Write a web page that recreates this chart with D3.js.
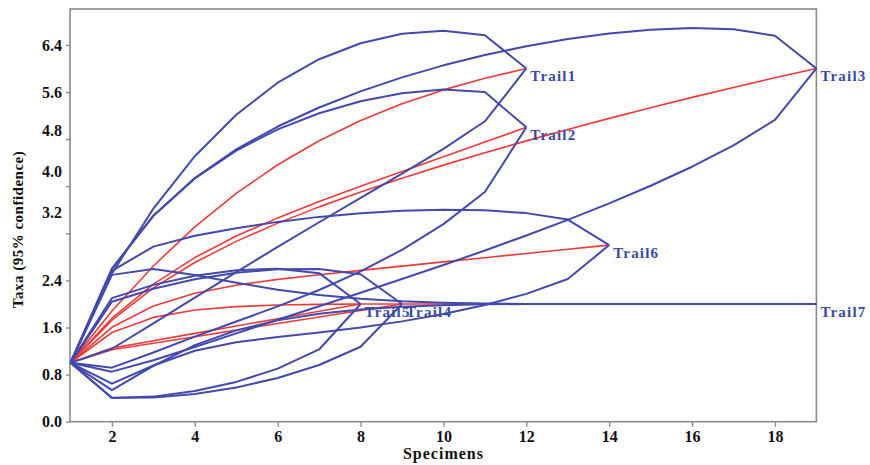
<!DOCTYPE html>
<html><head><meta charset="utf-8">
<script src="https://cdn.jsdelivr.net/npm/d3@7"></script>
<style>
html,body{margin:0;padding:0;background:#fff;}
svg{display:block;}
</style></head><body>
<svg id="chart" width="870" height="465"></svg>
<script>
// ---- data ----
const trailNames = ["Trail1","Trail2","Trail3","Trail4","Trail5","Trail6","Trail7"];

const trail1Mean  = [1, 1.879, 2.645, 3.309, 3.879, 4.364, 4.773, 5.115, 5.4, 5.636, 5.833, 6];
const trail1Lower = [1, 1.239, 1.671, 2.109, 2.542, 2.969, 3.388, 3.801, 4.212, 4.634, 5.103, 6];
const trail1Upper = [1, 2.518, 3.620, 4.510, 5.215, 5.758, 6.157, 6.429, 6.588, 6.639, 6.564, 6];

const trail2Mean  = [1, 1.758, 2.336, 2.788, 3.153, 3.462, 3.739, 3.998, 4.25, 4.5, 4.75, 5];
const trail2Lower = [1, 0.918, 1.176, 1.444, 1.701, 1.959, 2.237, 2.553, 2.920, 3.356, 3.901, 5];
const trail2Upper = [1, 2.598, 3.497, 4.132, 4.605, 4.966, 5.240, 5.443, 5.580, 5.644, 5.599, 5];

const trail3Mean  = [1, 1.725, 2.272, 2.705, 3.063, 3.373, 3.649, 3.901, 4.136, 4.358, 4.568, 4.770, 4.964, 5.152, 5.333, 5.509, 5.678, 5.842, 6];
const trail3Lower = [1, 0.850, 1.045, 1.270, 1.501, 1.732, 1.961, 2.191, 2.424, 2.662, 2.908, 3.163, 3.429, 3.709, 4.008, 4.331, 4.692, 5.127, 6];
const trail3Upper = [1, 2.600, 3.500, 4.140, 4.626, 5.014, 5.337, 5.611, 5.848, 6.053, 6.229, 6.377, 6.500, 6.595, 6.659, 6.687, 6.665, 6.557, 6];

const trail4Mean  = [1, 1.222, 1.333, 1.444, 1.556, 1.667, 1.778, 1.889, 2];
const trail4Lower = [1, 0.407, 0.409, 0.471, 0.582, 0.743, 0.963, 1.273, 2];
const trail4Upper = [1, 2.037, 2.257, 2.418, 2.530, 2.591, 2.593, 2.505, 2];

const trail5Mean  = [1, 1.25, 1.375, 1.5, 1.625, 1.75, 1.875, 2];
const trail5Lower = [1, 0.401, 0.426, 0.520, 0.676, 0.901, 1.227, 2];
const trail5Upper = [1, 2.099, 2.324, 2.480, 2.574, 2.599, 2.523, 2];

const trail6Mean  = [1, 1.604, 1.964, 2.181, 2.319, 2.417, 2.497, 2.571, 2.643, 2.714, 2.786, 2.857, 2.929, 3];
const trail6Lower = [1, 0.646, 0.955, 1.205, 1.350, 1.440, 1.516, 1.601, 1.704, 1.829, 1.981, 2.171, 2.424, 3];
const trail6Upper = [1, 2.562, 2.974, 3.157, 3.287, 3.394, 3.479, 3.541, 3.582, 3.600, 3.590, 3.543, 3.433, 3];

const trail7Mean  = [1, 1.515, 1.772, 1.897, 1.955, 1.982, 1.993, 1.998, 1.999, 2, 2, 2, 2, 2, 2, 2, 2, 2, 2];
const trail7Lower = [1, 0.535, 0.950, 1.301, 1.551, 1.721, 1.833, 1.906, 1.952, 1.979, 1.993, 2, 2, 2, 2, 2, 2, 2, 2];
const trail7Upper = [1, 2.494, 2.594, 2.493, 2.360, 2.243, 2.153, 2.090, 2.047, 2.021, 2.007, 2, 2, 2, 2, 2, 2, 2, 2];

const xTicks = [2, 4, 6, 8, 10, 12, 14, 16, 18];
const yTicks = [0.0, 0.8, 1.6, 2.4, 3.2, 4.0, 4.8, 5.6, 6.4];
const xTitle = "Specimens";
const yTitle = "Taxa (95% confidence)";

// ---- table built from the arrays ----
const trails = [
  {name: trailNames[0], mean: trail1Mean, lower: trail1Lower, upper: trail1Upper},
  {name: trailNames[1], mean: trail2Mean, lower: trail2Lower, upper: trail2Upper},
  {name: trailNames[2], mean: trail3Mean, lower: trail3Lower, upper: trail3Upper},
  {name: trailNames[3], mean: trail4Mean, lower: trail4Lower, upper: trail4Upper},
  {name: trailNames[4], mean: trail5Mean, lower: trail5Lower, upper: trail5Upper},
  {name: trailNames[5], mean: trail6Mean, lower: trail6Lower, upper: trail6Upper},
  {name: trailNames[6], mean: trail7Mean, lower: trail7Lower, upper: trail7Upper}
];

// ---- layout ----
const svg = d3.select("#chart");
const X0 = 70.5, X1 = 816.4, Y0 = 421.7, Y1 = 9;
const x = d3.scaleLinear().domain([1, 19]).range([X0, X1]);
const y = d3.scaleLinear().domain([0, 7.01]).range([Y0, Y1]);

const BLUE = "#4349ad", RED = "#ee3a3a", LABEL = "#3a4aa6", FRAME = "#8a8a8a";
const serif = "'Liberation Serif','Times New Roman',serif";

const line = d3.line().x((d, i) => x(i + 1)).y(d => y(d)).curve(d3.curveLinear);

// frame
svg.append("rect")
  .attr("x", X0 - 0.5).attr("y", Y1).attr("width", X1 - X0 + 0.5).attr("height", Y0 - Y1)
  .attr("fill", "none").attr("stroke", FRAME).attr("stroke-width", 1.6);

const plot = svg.append("g");

// mean curves (red) below, confidence curves (blue) above
plot.selectAll("path.mean").data(trails).join("path")
  .attr("class", "mean")
  .attr("d", d => line(d.mean))
  .attr("fill", "none").attr("stroke", RED).attr("stroke-width", 1.6)
  .attr("stroke-linejoin", "round");

const bounds = trails.flatMap(t => [t.lower, t.upper]);
plot.selectAll("path.ci").data(bounds).join("path")
  .attr("class", "ci")
  .attr("d", d => line(d))
  .attr("fill", "none").attr("stroke", BLUE).attr("stroke-width", 2)
  .attr("stroke-linejoin", "round");

// trail labels at the end points
svg.selectAll("text.trail").data(trails).join("text")
  .attr("class", "trail")
  .attr("x", d => x(d.mean.length) + 4)
  .attr("y", d => y(d.mean[d.mean.length - 1]) + 13)
  .attr("font-family", serif).attr("font-weight", "bold").attr("font-size", 15)
  .attr("letter-spacing", "1.2px")
  .attr("fill", LABEL)
  .text(d => d.name);

// axes
const yAxis = d3.axisLeft(y).tickValues(yTicks).tickFormat(d3.format(".1f")).tickSize(4).tickPadding(4);
const gy = svg.append("g").attr("transform", `translate(${X0 - 0.5},0)`).call(yAxis);
gy.select(".domain").remove();
gy.selectAll(".tick line").attr("stroke", FRAME).attr("stroke-width", 1.4);
const yLabelNudge = {"3.2": -20.5, "4.0": -14.5, "4.8": -8.3};
gy.selectAll(".tick text")
  .attr("font-family", serif).attr("font-weight", "bold").attr("font-size", 16).attr("fill", "#111")
  .attr("y", d => yLabelNudge[d3.format(".1f")(d)] || 0);

const xAxis = d3.axisBottom(x).tickValues(xTicks).tickFormat(d3.format("d")).tickSize(5).tickPadding(4);
const gx = svg.append("g").attr("transform", `translate(0,${Y0})`).call(xAxis);
gx.select(".domain").remove();
gx.selectAll(".tick line").attr("stroke", FRAME).attr("stroke-width", 1.4);
gx.selectAll(".tick text")
  .attr("font-family", serif).attr("font-weight", "bold").attr("font-size", 16).attr("fill", "#111");

// titles
svg.append("text")
  .attr("x", (X0 + X1) / 2).attr("y", 459)
  .attr("text-anchor", "middle")
  .attr("font-family", serif).attr("font-weight", "bold").attr("font-size", 16)
  .attr("letter-spacing", "1px").attr("fill", "#111")
  .text(xTitle);

svg.append("text")
  .attr("transform", "translate(23,229.5) rotate(-90)")
  .attr("text-anchor", "middle")
  .attr("font-family", serif).attr("font-weight", "bold").attr("font-size", 15)
  .attr("letter-spacing", "0.5px").attr("fill", "#111")
  .text(yTitle);
</script>
</body></html>
